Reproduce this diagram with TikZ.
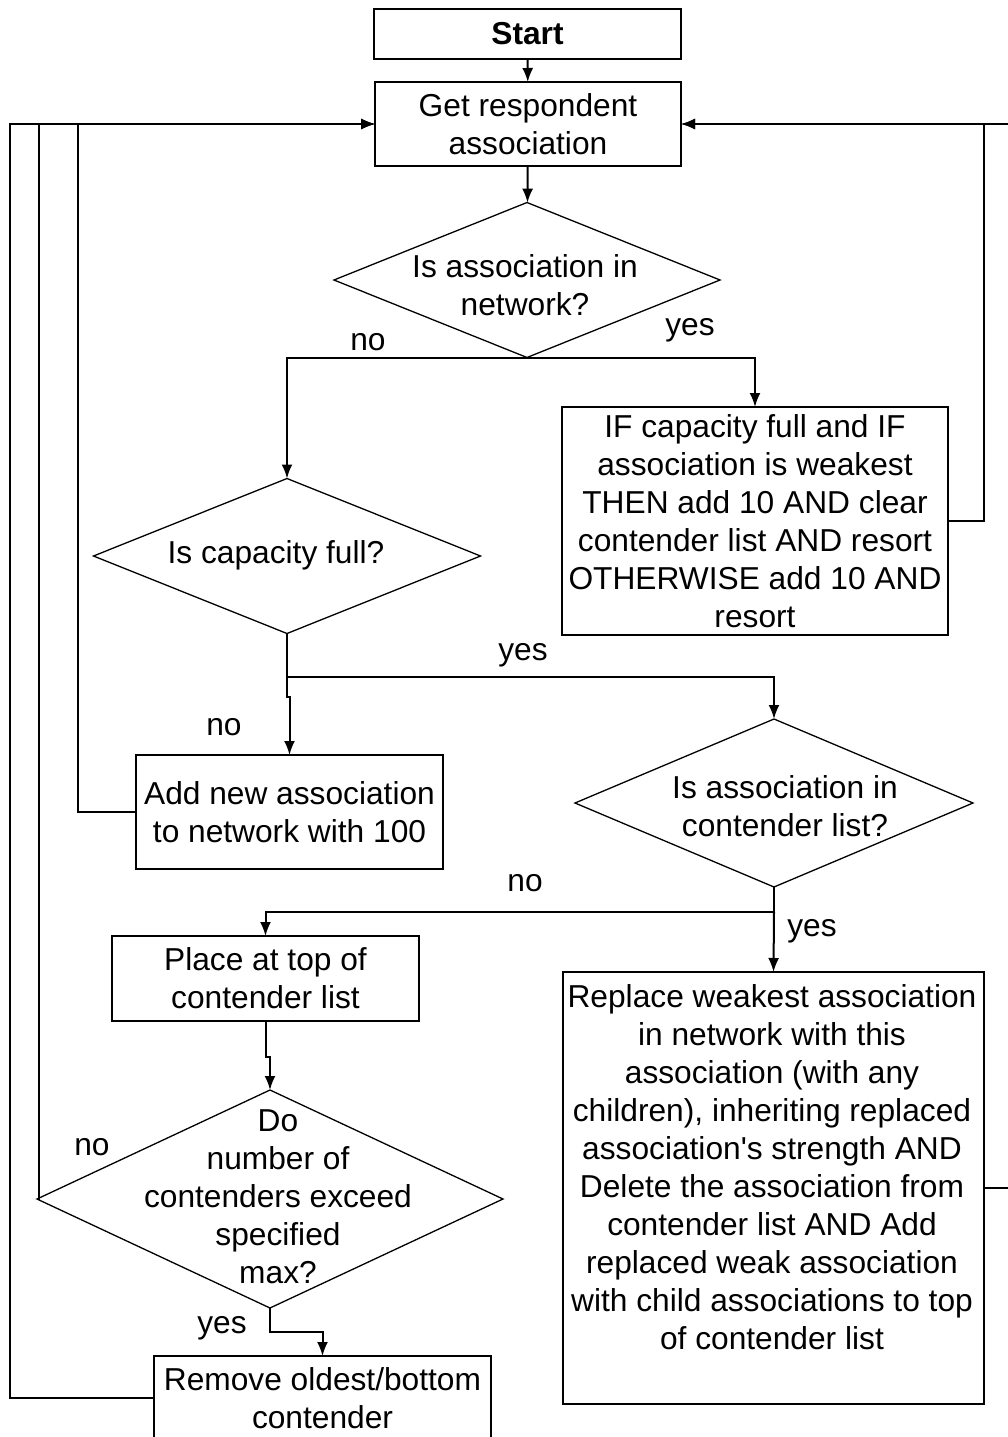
\documentclass[tikz,border=0pt]{standalone}
\usepackage{fontspec}
\setmainfont{Liberation Sans}
\usetikzlibrary{shapes.geometric, arrows.meta}

\begin{document}
\begin{tikzpicture}[x=1pt, y=-1pt, >={Latex[length=14pt,width=11pt]},
  line width=2pt, font=\fontsize{31.7}{38}\selectfont,
  box/.style={draw, rectangle, inner sep=0pt, outer sep=0pt, align=center},
  decision/.style={draw, diamond, inner sep=0pt, outer sep=0pt, line width=1.3pt}]
  \useasboundingbox (0,0) rectangle (1007,1437);

  % boxes
  \node[box, minimum width=307, minimum height=50] (start) at (527.5,34) {\bfseries Start};
  \node[box, minimum width=306, minimum height=84] (get) at (528,124) {Get respondent\\association};
  \node[box, minimum width=386, minimum height=228] (ifbox) at (755,521)
    {IF capacity full and IF\\association is weakest\\THEN add 10 AND clear\\contender list AND resort\\OTHERWISE add 10 AND\\resort};
  \node[box, minimum width=307, minimum height=114] (add) at (289.5,812) {Add new association\\to network with 100};
  \node[box, minimum width=307, minimum height=85] (place) at (265.5,978.5) {Place at top of\\contender list};
  \node[box, minimum width=421, minimum height=432] (replace) at (773.5,1188) {};
  \node[align=center] (replacetext) at (772,1167)
    {Replace weakest association\\in network with this\\association (with any\\children), inheriting replaced\\association\textquotesingle s strength AND\\Delete the association from\\contender list AND Add\\replaced weak association\\with child associations to top\\of contender list};
  \node[box, minimum width=337, minimum height=84] (remove) at (322.5,1398) {Remove oldest/bottom\\contender};

  % decisions
  \node[decision, minimum width=386, minimum height=155] (q1) at (527,280) {};
  \node[align=center] (q1text) at (525,285) {Is association in\\network?};
  \node[decision, minimum width=387, minimum height=155] (q2) at (287,556) {};
  \node (q2text) at (276,555) {Is capacity full?};
  \node[decision, minimum width=398, minimum height=168] (q3) at (774,803) {};
  \node[align=center] (q3text) at (785,806) {Is association in\\contender list?};
  \node[decision, minimum width=466, minimum height=218] (q4) at (270,1199) {};
  \node[align=center] (q4text) at (278,1197) {Do\\number of\\contenders exceed\\specified\\max?};

  % labels
  \node (no1) at (368,342) {no};
  \node (yes1) at (690,330) {yes};
  \node (no2) at (224,727) {no};
  \node (yes2) at (523,655) {yes};
  \node (no3) at (525,883) {no};
  \node (yes3) at (812,931) {yes};
  \node (no4) at (92,1147) {no};
  \node (yes4) at (222,1328) {yes};

  % main flow
  \coordinate (split2) at (287,677);
  \coordinate (split3) at (774,912);
  \draw[->] (start) -- (get);
  \draw[->] (get) -- (q1);
  \draw[->] (q1.south) -| (q2.north);
  \draw[->] (q1.south) -| (ifbox.north);
  \draw (q2.south) -- (split2);
  \draw[->] (split2) -- ++(0,20) -| (add.north);
  \draw[->] (split2) -| (q3.north);
  \draw (q3.south) -- (split3);
  \draw[->] (split3) -- (replace.north);
  \draw[->] (split3) -| (place.north);
  \draw[->] (place.south) -- ++(0,36) -| (q4.north);
  \draw[->] (q4.south) -- ++(0,24) -| (remove.north);

  % loops back to the top
  \draw[->] (ifbox.east) -- ++(36,0) |- (get.east);
  \draw[->] (replace.east) -- ++(26,0) |- (get.east);
  \draw[->] (add.west) -- ++(-58,0) |- (get.west);
  \draw[->] (q4.west) -- ++(2,0) |- (get.west);
  \draw[->] (remove.west) -- ++(-144,0) |- (get.west);
\end{tikzpicture}
\end{document}
